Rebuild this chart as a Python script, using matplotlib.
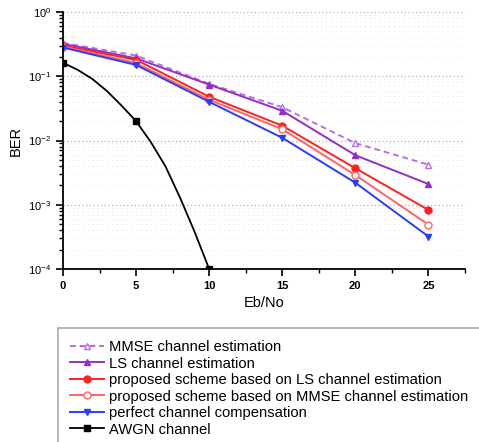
import matplotlib
matplotlib.use("Agg")
import matplotlib.pyplot as plt
from matplotlib.patches import Rectangle
from matplotlib.ticker import MultipleLocator, LogLocator, NullFormatter

plt.rcParams["font.family"] = ["Liberation Sans", "DejaVu Sans"]
plt.rcParams["mathtext.fontset"] = "custom"
plt.rcParams["mathtext.rm"] = "Liberation Sans:bold"
plt.rcParams["mathtext.default"] = "rm"

ebno = [0, 5, 10, 15, 20, 25]
mmse = [0.33, 0.21, 0.076, 0.033, 0.0091, 0.0042]
ls = [0.32, 0.19, 0.074, 0.029, 0.0059, 0.0021]
prop_ls = [0.30, 0.18, 0.048, 0.017, 0.0037, 0.00083]
prop_mmse = [0.29, 0.16, 0.043, 0.015, 0.0029, 0.00049]
perfect = [0.28, 0.15, 0.040, 0.011, 0.0022, 0.00032]

awgn_x = [0, 1, 2, 3, 4, 5, 6, 7, 8, 9, 10]
awgn = [0.162, 0.126, 0.091, 0.059, 0.035, 0.020, 0.0095, 0.0040, 0.0013, 0.00038, 0.0001]

labels = [
    "MMSE channel estimation",
    "LS channel estimation",
    "proposed scheme based on LS channel estimation",
    "proposed scheme based on MMSE channel estimation",
    "perfect channel compensation",
    "AWGN channel",
]

fig = plt.figure(figsize=(4.79, 4.42), dpi=100)
ax = fig.add_axes([63 / 479, 1 - 269 / 442, 402 / 479, 257 / 442])

lw = 1.4
ms = 5
ax.plot(ebno, mmse, color="#B86EE8", ls=(0, (3, 2)), lw=lw, marker="^",
        mfc="white", mec="#B86EE8", ms=ms, label=labels[0])
ax.plot(ebno, ls, color="#9030C8", lw=lw, marker="^", ms=ms, label=labels[1])
ax.plot(ebno, prop_ls, color="#FF2020", lw=lw, marker="o", ms=ms, label=labels[2])
ax.plot(ebno, prop_mmse, color="#FF6464", lw=lw, marker="o", mfc="white",
        mec="#FF6464", ms=ms, label=labels[3])
ax.plot(ebno, perfect, color="#2A3CFF", lw=lw, marker="v", ms=ms, label=labels[4])
ax.plot(awgn_x, awgn, color="black", lw=1.3, marker="s", ms=4.5,
        markevery=[0, 5, 10], label=labels[5])

ax.set_yscale("log")
ax.set_ylim(1e-4, 1)
ax.set_xlim(0, 27.5)
ax.xaxis.set_major_locator(MultipleLocator(5))
ax.xaxis.set_minor_locator(MultipleLocator(2.5))
ax.yaxis.set_major_locator(LogLocator(base=10, numticks=10))
ax.yaxis.set_minor_locator(LogLocator(base=10, subs=range(2, 10), numticks=10))
ax.yaxis.set_minor_formatter(NullFormatter())

ax.yaxis.grid(True, which="major", ls=(0, (1, 2)), color="#B0B0B0", lw=0.9)
ax.yaxis.grid(True, which="minor", ls=(0, (1, 4)), color="#E2E2E2", lw=0.7)

for s in ["top", "right"]:
    ax.spines[s].set_visible(False)
for s in ["left", "bottom"]:
    ax.spines[s].set_linewidth(1.3)

ax.tick_params(which="major", length=5, width=1.2, labelsize=8)
ax.tick_params(which="minor", length=3, width=1.0)
for t in ax.get_xticklabels():
    t.set_fontweight("bold")

ax.set_xlabel("Eb/No", fontsize=10.5)
ax.set_ylabel("BER", fontsize=10.5)

# legend frame running off the figure edge
fig.patches.append(Rectangle((58 / 479, -0.05), 1.0, 1 - 328 / 442 + 0.05,
                             transform=fig.transFigure, fill=False,
                             edgecolor="#AAAAAA", lw=1.2))
fig.legend(loc="upper left", bbox_to_anchor=(70 / 479, 1 - 340 / 442),
           frameon=False, fontsize=10.6, handlelength=2.3, handletextpad=0.35,
           labelspacing=0.17, borderaxespad=0, borderpad=0)

fig.savefig("out.png", dpi=100)
